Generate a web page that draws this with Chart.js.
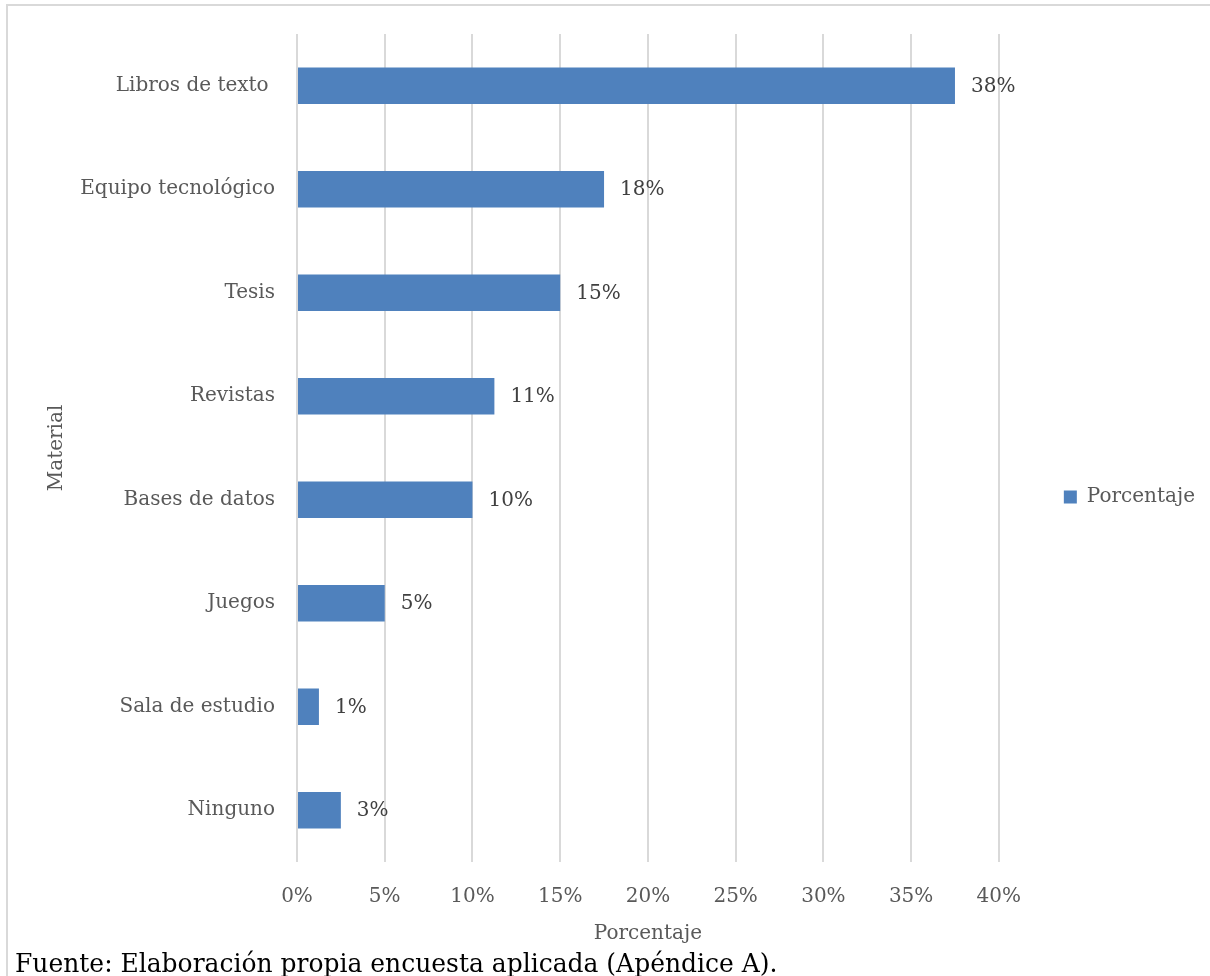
<!DOCTYPE html>
<html lang="es">
<head>
<meta charset="utf-8">
<script src="https://cdn.jsdelivr.net/npm/chart.js@4.4.1/dist/chart.umd.min.js"></script>
<style>
  html, body { margin: 0; padding: 0; background: #fff; }
  #wrap { position: relative; width: 1210px; height: 976px; overflow: hidden; }
  #marco { position: absolute; left: 6px; top: 4px; width: 1240px; height: 1000px;
           border-left: 2px solid #d9d9d9; border-top: 2px solid #d9d9d9; }
  #grafico { position: absolute; left: 0; top: 0; }
  #fuente { position: absolute; left: 15px; top: 949px; font-family: "DejaVu Serif"; font-size: 26px;
            line-height: 28px; color: #000; white-space: nowrap; transform-origin: left top; }
</style>
</head>
<body>
<div id="wrap">
  <div id="marco"></div>
  <canvas id="grafico" width="1210" height="976"></canvas>
  <div id="fuente">Fuente: Elaboración propia encuesta aplicada (Apéndice A).</div>
</div>
<script>
const categorias = ['Libros de texto ', 'Equipo tecnológico', 'Tesis', 'Revistas',
                    'Bases de datos', 'Juegos', 'Sala de estudio', 'Ninguno'];
const porcentajes = [37.5, 17.5, 15, 11.25, 10, 5, 1.25, 2.5];
const serie = 'Porcentaje';
const ejeMin = 0;
const ejeMax = 40;
const ejePaso = 5;

const gris = '#595959';
const fuente = { family: 'DejaVu Serif', size: 20 };

// etiqueta de valor al final de cada barra
const etiquetasValor = {
  id: 'etiquetasValor',
  afterDatasetsDraw(chart) {
    const ctx = chart.ctx;
    ctx.save();
    ctx.font = '20px "DejaVu Serif"';
    ctx.fillStyle = '#404040';
    ctx.textBaseline = 'middle';
    chart.getDatasetMeta(0).data.forEach((barra, i) => {
      ctx.fillText(Math.round(porcentajes[i]) + '%', barra.x + 16, barra.y + 1);
    });
    ctx.restore();
  }
};

new Chart(document.getElementById('grafico'), {
  type: 'bar',
  data: {
    labels: categorias,
    datasets: [{
      label: serie,
      data: porcentajes,
      backgroundColor: '#4f81bd',
      borderWidth: 0,
      barPercentage: 0.355,
      categoryPercentage: 1
    }]
  },
  options: {
    indexAxis: 'y',
    responsive: false,
    animation: false,
    layout: { padding: { top: 34, bottom: 16, left: 45, right: 5 } },
    scales: {
      x: {
        min: ejeMin,
        max: ejeMax,
        ticks: { stepSize: ejePaso, callback: v => v + '%', color: gris, font: fuente, padding: 23 },
        grid: { color: '#d9d9d9', lineWidth: 2, drawTicks: false },
        border: { display: false },
        title: { display: true, text: 'Porcentaje', color: gris, font: fuente, padding: { top: 0, bottom: 14 } },
        afterFit: s => { s.height = 98; }
      },
      y: {
        ticks: { color: gris, font: fuente, padding: 22 },
        grid: { display: false, drawTicks: false },
        border: { display: false },
        title: { display: true, text: 'Material', color: gris, font: fuente, padding: { top: 0, bottom: 11 } },
        afterFit: s => { s.width = 252; }
      },
      // hueco entre el área de trazado y la leyenda
      margen: {
        type: 'linear',
        position: 'right',
        grid: { display: false, drawTicks: false },
        border: { display: false },
        ticks: { display: false },
        afterFit: s => { s.width = 48; }
      }
    },
    plugins: {
      legend: {
        position: 'right',
        labels: { boxWidth: 13, boxHeight: 13, padding: 17, color: gris, font: fuente }
      },
      tooltip: { enabled: false }
    }
  },
  plugins: [etiquetasValor]
});

const nota = document.getElementById('fuente');
nota.style.transform = 'scaleX(' + (762 / nota.offsetWidth) + ')';
</script>
</body>
</html>
